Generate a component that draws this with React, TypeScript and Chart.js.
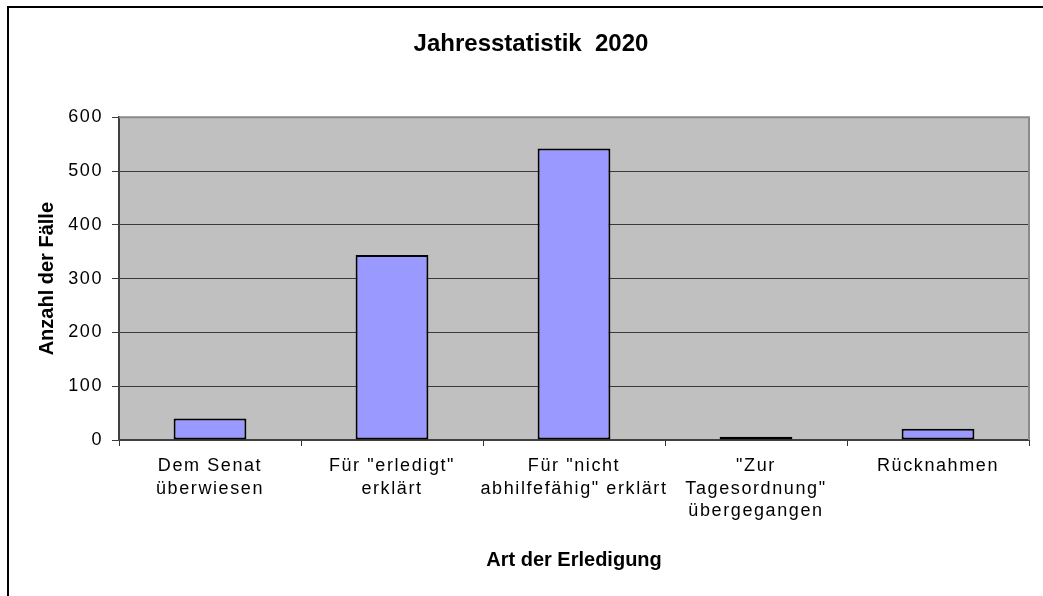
import React, { useEffect, useRef } from "react";
import { Chart, registerables } from "chart.js";

Chart.register(...registerables);

const chartTitle = "Jahresstatistik  2020";
const xAxisTitle = "Art der Erledigung";
const yAxisTitle = "Anzahl der Fälle";
const categories: string[][] = [
  ["Dem Senat", "überwiesen"],
  ['Für "erledigt"', "erklärt"],
  ['Für "nicht', 'abhilfefähig" erklärt'],
  ['"Zur', 'Tagesordnung"', "übergegangen"],
  ["Rücknahmen"],
];
const caseCounts = [40, 344, 542, 6, 21];
const yMin = 0;
const yMax = 600;
const yStep = 100;

const FONT = "'Liberation Sans', Arial, Helvetica, sans-serif";

const plotPlugin = {
  id: "plotDecor",
  beforeDraw(chart: any) {
    const { ctx, chartArea: a } = chart;
    ctx.save();
    ctx.fillStyle = "#C0C0C0";
    ctx.fillRect(a.left, a.top, a.right - a.left, a.bottom - a.top);
    ctx.restore();
  },
  beforeDatasetsDraw(chart: any) {
    const { ctx, chartArea: a } = chart;
    ctx.save();
    ctx.strokeStyle = "#8a8a8a";
    ctx.lineWidth = 2;
    ctx.beginPath();
    ctx.moveTo(a.left, a.top);
    ctx.lineTo(a.right, a.top);
    ctx.lineTo(a.right, a.bottom);
    ctx.stroke();
    ctx.restore();
  },
  afterDatasetsDraw(chart: any) {
    (chart.ctx as any).letterSpacing = "1.6px";
  },
  afterDraw(chart: any) {
    (chart.ctx as any).letterSpacing = "0px";
  },
};

export default function App() {
  const ref = useRef<HTMLCanvasElement | null>(null);

  useEffect(() => {
    if (!ref.current) return;
    Chart.defaults.font.family = FONT;
    Chart.defaults.color = "#000";
    const chart = new Chart(ref.current, {
      type: "bar",
      data: {
        labels: categories,
        datasets: [
          {
            data: caseCounts,
            backgroundColor: "#9999FF",
            borderColor: "#000",
            borderWidth: 2,
            borderSkipped: false,
            barPercentage: 0.4,
            categoryPercentage: 1,
          },
        ],
      },
      plugins: [plotPlugin],
      options: {
        responsive: false,
        animation: false,
        layout: { padding: { left: 0, right: 14, top: 0, bottom: 0 } },
        plugins: {
          legend: { display: false },
          tooltip: { enabled: false },
          title: {
            display: true,
            text: chartTitle,
            color: "#000",
            font: { family: FONT, size: 24, weight: "bold", lineHeight: 1.2 },
            padding: { top: 30, bottom: 58.5 },
          },
        },
        scales: {
          x: {
            grid: {
              display: true,
              drawOnChartArea: false,
              drawTicks: true,
              tickLength: 6,
              color: "#333",
              offset: true,
            },
            border: { display: true, color: "#404040", width: 2 },
            ticks: {
              autoSkip: false,
              maxRotation: 0,
              minRotation: 0,
              padding: 9,
              color: "#000",
              z: 1,
              font: { family: FONT, size: 18, lineHeight: 1.25 },
            },
            title: {
              display: true,
              text: xAxisTitle,
              color: "#000",
              font: { family: FONT, size: 20, weight: "bold", lineHeight: 1.2 },
              padding: { top: 0, bottom: 24 },
            },
            afterFit(scale: any) {
              scale.height = 156;
            },
          },
          y: {
            min: yMin,
            max: yMax,
            ticks: {
              stepSize: yStep,
              padding: 9,
              color: "#000",
              z: 1,
              font: { family: FONT, size: 18 },
            },
            grid: {
              color: "#3a3a3a",
              lineWidth: 1,
              drawTicks: true,
              tickLength: 7,
            },
            border: { display: true, color: "#404040", width: 2 },
            title: {
              display: true,
              text: yAxisTitle,
              color: "#000",
              font: { family: FONT, size: 20, weight: "bold", lineHeight: 1.2 },
              padding: { top: 2, bottom: 0 },
            },
            afterFit(scale: any) {
              scale.width = 86;
            },
          },
        },
      },
    });
    return () => chart.destroy();
  }, []);

  return (
    <div
      style={{
        position: "fixed",
        left: 0,
        top: 0,
        width: 1043,
        height: 596,
        overflow: "hidden",
        background: "#fff",
      }}
    >
      <div
        style={{
          position: "absolute",
          left: 7,
          top: 6,
          width: 2000,
          height: 2000,
          borderLeft: "2px solid #000",
          borderTop: "2px solid #000",
        }}
      />
      <canvas
        ref={ref}
        width={1010}
        height={596}
        style={{ position: "absolute", left: 33, top: 0, width: 1010, height: 596 }}
      />
    </div>
  );
}
